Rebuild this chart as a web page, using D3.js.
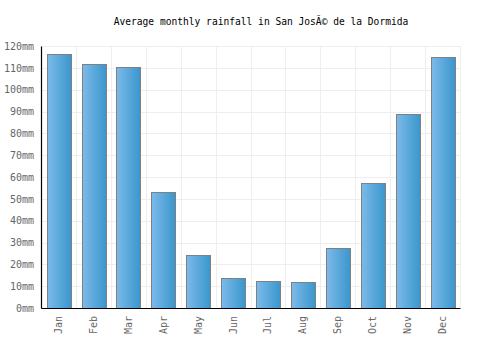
<!DOCTYPE html>
<html>
<head>
<meta charset="utf-8">
<script src="https://cdn.jsdelivr.net/npm/d3@7"></script>
<style>
  body { margin: 0; background: #fff; }
  svg text { font-family: "DejaVu Sans Mono", monospace; }
</style>
</head>
<body>
<div id="chart"></div>
<script>
const months = ["Jan", "Feb", "Mar", "Apr", "May", "Jun", "Jul", "Aug", "Sep", "Oct", "Nov", "Dec"];
const rainfall = [116.2, 111.6, 110.2, 53.3, 24.5, 13.9, 12.5, 12.1, 27.7, 57.4, 88.7, 114.8];
const yTicks = [0, 10, 20, 30, 40, 50, 60, 70, 80, 90, 100, 110, 120];
const title = "Average monthly rainfall in San Jos\u00c3\u00a9 de la Dormida";

const width = 500, height = 350;
const margin = { top: 46, right: 40, bottom: 42, left: 41 };

const svg = d3.select("#chart").append("svg")
  .attr("width", width)
  .attr("height", height);

const grad = svg.append("defs").append("linearGradient")
  .attr("id", "barGrad")
  .attr("x1", "0%").attr("x2", "100%").attr("y1", "0%").attr("y2", "0%");
grad.append("stop").attr("offset", "0%").attr("stop-color", "#7cbaea");
grad.append("stop").attr("offset", "100%").attr("stop-color", "#3a96cc");

const x = d3.scaleBand()
  .domain(months)
  .range([margin.left, width - margin.right])
  .paddingInner(0.32)
  .paddingOuter(0.16);

const y = d3.scaleLinear()
  .domain([0, 120])
  .range([height - margin.bottom, margin.top]);

// grid
const grid = svg.append("g");
grid.selectAll(".hgrid")
  .data(yTicks)
  .enter().append("line")
  .attr("x1", margin.left).attr("x2", width - margin.right)
  .attr("y1", d => Math.round(y(d)) + 0.5).attr("y2", d => Math.round(y(d)) + 0.5)
  .attr("stroke", "#eeeeee");

const step = x.step();
grid.selectAll(".vgrid")
  .data(d3.range(months.length + 1))
  .enter().append("line")
  .attr("x1", i => Math.round(margin.left + i * step) + 0.5)
  .attr("x2", i => Math.round(margin.left + i * step) + 0.5)
  .attr("y1", margin.top).attr("y2", height - margin.bottom)
  .attr("stroke", "#eeeeee");

// bars
svg.append("g").selectAll("rect")
  .data(rainfall)
  .enter().append("rect")
  .attr("x", (d, i) => Math.round(x(months[i])) + 0.5)
  .attr("y", d => Math.round(y(d)) + 0.5)
  .attr("width", Math.round(x.bandwidth()))
  .attr("height", d => Math.round(y(0)) - Math.round(y(d)))
  .attr("fill", "url(#barGrad)")
  .attr("stroke", "#808080")
  .attr("stroke-width", 1);

// y axis
const yAxis = svg.append("g")
  .attr("transform", `translate(${margin.left},0)`)
  .call(d3.axisLeft(y).tickValues(yTicks).tickSize(0).tickPadding(7).tickFormat(d => d + "mm"));
yAxis.select(".domain").attr("stroke", "#000").attr("stroke-width", 1.2);
yAxis.selectAll("text").attr("fill", "#666").style("font-size", "10px");

// x axis
const xAxis = svg.append("g")
  .attr("transform", `translate(0,${height - margin.bottom})`)
  .call(d3.axisBottom(x).tickSize(0).tickPadding(6));
xAxis.select(".domain").attr("stroke", "#000").attr("stroke-width", 1.2);
xAxis.selectAll("text")
  .attr("fill", "#666")
  .style("font-size", "10px")
  .attr("transform", "rotate(-90)")
  .attr("text-anchor", "end")
  .attr("dy", "0.35em")
  .attr("x", -8)
  .attr("y", 0);

// title
svg.append("text")
  .attr("x", width / 2 + 11)
  .attr("y", 25)
  .attr("text-anchor", "middle")
  .attr("fill", "#000")
  .style("font-size", "9.6px")
  .text(title);
</script>
</body>
</html>
